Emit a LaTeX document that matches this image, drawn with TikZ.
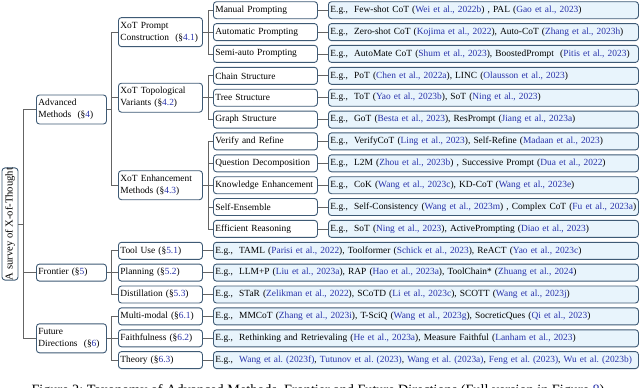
\documentclass[tikz,border=0pt]{standalone}
\usepackage{fontspec}
\setmainfont{Liberation Serif}
\frenchspacing
\definecolor{bord}{RGB}{62,90,117}
\definecolor{leaffill}{RGB}{232,244,252}
\definecolor{cblue}{RGB}{40,50,170}
\definecolor{connc}{RGB}{100,100,100}
\newcommand{\ct}[1]{\textcolor{cblue}{#1}}
\newcommand{\eg}[1]{\mbox{E.g.,\ \ #1}}
\begin{document}
\begin{tikzpicture}[x=1pt,y=-1pt,
  bx/.style={draw=bord, line width=0.9pt, rounded corners=3pt, fill=white, anchor=west,
    align=left, inner xsep=2pt, inner ysep=0pt, font=\fontsize{9.4}{12}\selectfont},
  one/.style={minimum height=17pt},
  two/.style={minimum height=29pt},
  lva/.style={bx, text width=66pt},
  lvb/.style={bx, text width=80pt},
  lvc/.style={bx, one, text width=100pt},
  leaf/.style={bx, one, fill=leaffill, text width=306pt},
  leafw/.style={bx, one, fill=leaffill, text width=421pt},
  cn/.style={draw=connc, line width=0.8pt}
]
\useasboundingbox (0,0) rectangle (640,388);

% root
\node[draw=bord, line width=0.9pt, rounded corners=3pt, rotate=90, minimum width=112pt,
  minimum height=16pt, inner sep=0pt, font=\fontsize{10.6}{13}\selectfont] (root) at (10,224) {A survey of X-of-Thought};

% level 1
\node[lva, two] (adv) at (36,109.5) {Advanced\\Methods\ \ (§\ct{4})};
\node[lva, one] (fro) at (36,272.6) {Frontier (§\ct{5})};
\node[lva, two] (fut) at (36,338.3) {Future\\Directions\ \ (§\ct{6})};

% level 2
\node[lvb, two] (pc) at (118,32.1) {XoT Prompt\\\mbox{Construction\ \ (§\ct{4.1})}};
\node[lvb, two] (tv) at (118,97.7) {XoT Topological\\Variants (§\ct{4.2})};
\node[lvb, two] (em) at (118,185.2) {XoT Enhancement\\Methods (§\ct{4.3})};
\node[lvb, one] (tu) at (118,250.8) {Tool Use (§\ct{5.1})};
\node[lvb, one] (pl) at (118,272.6) {Planning (§\ct{5.2})};
\node[lvb, one] (di) at (118,294.5) {Distillation (§\ct{5.3})};
\node[lvb, one] (mm) at (118,316.4) {Multi-modal (§\ct{6.1})};
\node[lvb, one] (fa) at (118,338.3) {Faithfulness (§\ct{6.2})};
\node[lvb, one] (th) at (118,360.1) {Theory (§\ct{6.3})};

% level 3
\node[lvc] (c0) at (213,10.2) {Manual Prompting};
\node[lvc] (c1) at (213,32.1) {Automatic Prompting};
\node[lvc] (c2) at (213,53.9) {Semi-auto Prompting};
\node[lvc] (c3) at (213,75.8) {Chain Structure};
\node[lvc] (c4) at (213,97.7) {Tree Structure};
\node[lvc] (c5) at (213,119.6) {Graph Structure};
\node[lvc] (c6) at (213,141.4) {Verify and Refine};
\node[lvc] (c7) at (213,163.3) {\mbox{Question Decomposition}};
\node[lvc] (c8) at (213,185.2) {\mbox{Knowledge Enhancement}};
\node[lvc] (c9) at (213,207.0) {Self-Ensemble};
\node[lvc] (c10) at (213,228.9) {Efficient Reasoning};

% leaves
\node[leaf] (l0) at (328,10.2) {\eg{Few-shot CoT (\ct{Wei et al., 2022b}) , PAL (\ct{Gao et al., 2023})}};
\node[leaf] (l1) at (328,32.1) {\eg{Zero-shot CoT (\ct{Kojima et al., 2022}), Auto-CoT (\ct{Zhang et al., 2023h})}};
\node[leaf] (l2) at (328,53.9) {\eg{AutoMate CoT (\ct{Shum et al., 2023}), BoostedPrompt\ \ (\ct{Pitis et al., 2023})}};
\node[leaf] (l3) at (328,75.8) {\eg{PoT (\ct{Chen et al., 2022a}), LINC (\ct{Olausson et al., 2023})}};
\node[leaf] (l4) at (328,97.7) {\eg{ToT (\ct{Yao et al., 2023b}), SoT (\ct{Ning et al., 2023})}};
\node[leaf] (l5) at (328,119.6) {\eg{GoT (\ct{Besta et al., 2023}), ResPrompt (\ct{Jiang et al., 2023a})}};
\node[leaf] (l6) at (328,141.4) {\eg{VerifyCoT (\ct{Ling et al., 2023}), Self-Refine (\ct{Madaan et al., 2023})}};
\node[leaf] (l7) at (328,163.3) {\eg{L2M (\ct{Zhou et al., 2023b}) , Successive Prompt (\ct{Dua et al., 2022})}};
\node[leaf] (l8) at (328,185.2) {\eg{CoK (\ct{Wang et al., 2023c}), KD-CoT (\ct{Wang et al., 2023e})}};
\node[leaf] (l9) at (328,207.0) {\eg{Self-Consistency (\ct{Wang et al., 2023m}) , Complex CoT (\ct{Fu et al., 2023a})}};
\node[leaf] (l10) at (328,228.9) {\eg{SoT (\ct{Ning et al., 2023}), ActivePrompting (\ct{Diao et al., 2023})}};
\node[leafw] (l11) at (213,250.8) {\eg{TAML (\ct{Parisi et al., 2022}), Toolformer (\ct{Schick et al., 2023}), ReACT (\ct{Yao et al., 2023c})}};
\node[leafw] (l12) at (213,272.6) {\eg{LLM+P (\ct{Liu et al., 2023a}), RAP (\ct{Hao et al., 2023a}), ToolChain* (\ct{Zhuang et al., 2024})}};
\node[leafw] (l13) at (213,294.5) {\eg{STaR (\ct{Zelikman et al., 2022}), SCoTD (\ct{Li et al., 2023c}), SCOTT (\ct{Wang et al., 2023j})}};
\node[leafw] (l14) at (213,316.4) {\eg{MMCoT (\ct{Zhang et al., 2023i}), T-SciQ (\ct{Wang et al., 2023g}), SocreticQues (\ct{Qi et al., 2023})}};
\node[leafw] (l15) at (213,338.3) {\eg{Rethinking and Retrievaling (\ct{He et al., 2023a}), Measure Faithful (\ct{Lanham et al., 2023})}};
\node[leafw] (l16) at (213,360.1) {\eg{\ct{Wang et al. (2023f)}, \ct{Tutunov et al. (2023)}, \ct{Wang et al. (2023a)}, \ct{Feng et al. (2023)}, \ct{Wu et al. (2023b)}}};

% connectors
\foreach \c in {adv,fro,fut} \draw[cn] (root.south) -- ++(5,0) |- (\c.west);
\foreach \c in {pc,tv,em} \draw[cn] (adv.east) -- ++(4,0) |- (\c.west);
\foreach \c in {tu,pl,di} \draw[cn] (fro.east) -- ++(4,0) |- (\c.west);
\foreach \c in {mm,fa,th} \draw[cn] (fut.east) -- ++(4,0) |- (\c.west);
\foreach \c in {c0,c1,c2} \draw[cn] (pc.east) -- ++(5,0) |- (\c.west);
\foreach \c in {c3,c4,c5} \draw[cn] (tv.east) -- ++(5,0) |- (\c.west);
\foreach \c in {c6,c7,c8,c9,c10} \draw[cn] (em.east) -- ++(5,0) |- (\c.west);
\foreach \i in {0,...,10} \draw[cn] (c\i.east) -- (l\i.west);
\draw[cn] (tu.east) -- (l11.west);
\draw[cn] (pl.east) -- (l12.west);
\draw[cn] (di.east) -- (l13.west);
\draw[cn] (mm.east) -- (l14.west);
\draw[cn] (fa.east) -- (l15.west);
\draw[cn] (th.east) -- (l16.west);

% caption (cut at the bottom edge, as in the reference)
\node[anchor=base, font=\fontsize{14.2}{16}\selectfont, inner sep=0pt] (cap) at (318,394.5)
  {Figure 2: Taxonomy of Advanced Methods, Frontier and Future Directions (Full version in Figure \ct{8})};
\end{tikzpicture}
\end{document}
